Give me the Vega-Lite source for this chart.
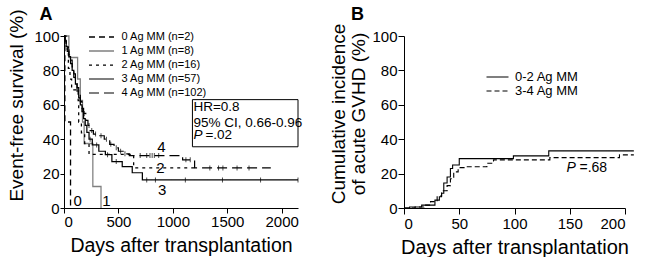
{
  "$schema": "https://vega.github.io/schema/vega-lite/v6.json",
  "background": "white",
  "padding": {"left": 7, "top": 6, "right": 0, "bottom": 0},
  "bounds": "flush",
  "spacing": 106,
  "config": {
    "font": "Liberation Sans",
    "view": {"stroke": null},
    "axis": {
      "grid": false, "domainColor": "black", "tickColor": "black", "labelColor": "black",
      "titleColor": "black", "labelFontSize": 15, "titleFontWeight": "normal",
      "tickSize": 4, "labelPadding": 1, "domainWidth": 1, "tickWidth": 1
    },
    "legend": {"labelColor": "black", "title": null}
  },
  "datasets": {
    "kmA": [
      {"group": "0 Ag MM (n=2)", "day": 0, "pct": 100},
      {"group": "0 Ag MM (n=2)", "day": 8, "pct": 50},
      {"group": "0 Ag MM (n=2)", "day": 60, "pct": 0},
      {"group": "1 Ag MM (n=8)", "day": 0, "pct": 100},
      {"group": "1 Ag MM (n=8)", "day": 45, "pct": 87.5},
      {"group": "1 Ag MM (n=8)", "day": 125, "pct": 75},
      {"group": "1 Ag MM (n=8)", "day": 150, "pct": 62.5},
      {"group": "1 Ag MM (n=8)", "day": 170, "pct": 50},
      {"group": "1 Ag MM (n=8)", "day": 185, "pct": 37.5},
      {"group": "1 Ag MM (n=8)", "day": 265, "pct": 12.5},
      {"group": "1 Ag MM (n=8)", "day": 340, "pct": 0},
      {"group": "2 Ag MM (n=16)", "day": 0, "pct": 100},
      {"group": "2 Ag MM (n=16)", "day": 20, "pct": 93.75},
      {"group": "2 Ag MM (n=16)", "day": 40, "pct": 81.25},
      {"group": "2 Ag MM (n=16)", "day": 55, "pct": 75},
      {"group": "2 Ag MM (n=16)", "day": 70, "pct": 68.75},
      {"group": "2 Ag MM (n=16)", "day": 130, "pct": 62.5},
      {"group": "2 Ag MM (n=16)", "day": 135, "pct": 50},
      {"group": "2 Ag MM (n=16)", "day": 160, "pct": 43.75},
      {"group": "2 Ag MM (n=16)", "day": 190, "pct": 37.5},
      {"group": "2 Ag MM (n=16)", "day": 230, "pct": 31.25},
      {"group": "2 Ag MM (n=16)", "day": 640, "pct": 23.4},
      {"group": "2 Ag MM (n=16)", "day": 1200, "pct": 23.4},
      {"group": "3 Ag MM (n=57)", "day": 0, "pct": 100},
      {"group": "3 Ag MM (n=57)", "day": 10, "pct": 97},
      {"group": "3 Ag MM (n=57)", "day": 20, "pct": 94},
      {"group": "3 Ag MM (n=57)", "day": 30, "pct": 91},
      {"group": "3 Ag MM (n=57)", "day": 45, "pct": 88},
      {"group": "3 Ag MM (n=57)", "day": 60, "pct": 84},
      {"group": "3 Ag MM (n=57)", "day": 75, "pct": 80},
      {"group": "3 Ag MM (n=57)", "day": 90, "pct": 76},
      {"group": "3 Ag MM (n=57)", "day": 105, "pct": 72},
      {"group": "3 Ag MM (n=57)", "day": 120, "pct": 68},
      {"group": "3 Ag MM (n=57)", "day": 135, "pct": 64},
      {"group": "3 Ag MM (n=57)", "day": 150, "pct": 60},
      {"group": "3 Ag MM (n=57)", "day": 165, "pct": 56},
      {"group": "3 Ag MM (n=57)", "day": 180, "pct": 52},
      {"group": "3 Ag MM (n=57)", "day": 195, "pct": 48},
      {"group": "3 Ag MM (n=57)", "day": 210, "pct": 44},
      {"group": "3 Ag MM (n=57)", "day": 230, "pct": 40},
      {"group": "3 Ag MM (n=57)", "day": 260, "pct": 36.7},
      {"group": "3 Ag MM (n=57)", "day": 320, "pct": 33},
      {"group": "3 Ag MM (n=57)", "day": 380, "pct": 31},
      {"group": "3 Ag MM (n=57)", "day": 440, "pct": 27},
      {"group": "3 Ag MM (n=57)", "day": 535, "pct": 24},
      {"group": "3 Ag MM (n=57)", "day": 627, "pct": 20.5},
      {"group": "3 Ag MM (n=57)", "day": 720, "pct": 16.3},
      {"group": "3 Ag MM (n=57)", "day": 2150, "pct": 16.3},
      {"group": "4 Ag MM (n=102)", "day": 0, "pct": 100},
      {"group": "4 Ag MM (n=102)", "day": 10, "pct": 97.5},
      {"group": "4 Ag MM (n=102)", "day": 20, "pct": 95},
      {"group": "4 Ag MM (n=102)", "day": 30, "pct": 92},
      {"group": "4 Ag MM (n=102)", "day": 45, "pct": 89},
      {"group": "4 Ag MM (n=102)", "day": 60, "pct": 86},
      {"group": "4 Ag MM (n=102)", "day": 75, "pct": 82},
      {"group": "4 Ag MM (n=102)", "day": 90, "pct": 78},
      {"group": "4 Ag MM (n=102)", "day": 105, "pct": 74},
      {"group": "4 Ag MM (n=102)", "day": 120, "pct": 70},
      {"group": "4 Ag MM (n=102)", "day": 135, "pct": 66},
      {"group": "4 Ag MM (n=102)", "day": 150, "pct": 62},
      {"group": "4 Ag MM (n=102)", "day": 165, "pct": 58},
      {"group": "4 Ag MM (n=102)", "day": 180, "pct": 55},
      {"group": "4 Ag MM (n=102)", "day": 200, "pct": 51},
      {"group": "4 Ag MM (n=102)", "day": 220, "pct": 48},
      {"group": "4 Ag MM (n=102)", "day": 240, "pct": 45},
      {"group": "4 Ag MM (n=102)", "day": 270, "pct": 43},
      {"group": "4 Ag MM (n=102)", "day": 320, "pct": 42},
      {"group": "4 Ag MM (n=102)", "day": 370, "pct": 40},
      {"group": "4 Ag MM (n=102)", "day": 420, "pct": 37},
      {"group": "4 Ag MM (n=102)", "day": 460, "pct": 35},
      {"group": "4 Ag MM (n=102)", "day": 500, "pct": 33},
      {"group": "4 Ag MM (n=102)", "day": 550, "pct": 31.5},
      {"group": "4 Ag MM (n=102)", "day": 600, "pct": 30.5},
      {"group": "4 Ag MM (n=102)", "day": 1090, "pct": 28},
      {"group": "4 Ag MM (n=102)", "day": 1200, "pct": 23.3},
      {"group": "4 Ag MM (n=102)", "day": 1900, "pct": 23.3}
    ],
    "censA": [
      {"group": "4", "day": 150, "pct": 62}, {"group": "4", "day": 170, "pct": 58},
      {"group": "4", "day": 185, "pct": 55}, {"group": "4", "day": 230, "pct": 48},
      {"group": "4", "day": 255, "pct": 45}, {"group": "4", "day": 290, "pct": 43},
      {"group": "4", "day": 340, "pct": 42}, {"group": "4", "day": 390, "pct": 40},
      {"group": "4", "day": 430, "pct": 37}, {"group": "4", "day": 480, "pct": 35},
      {"group": "4", "day": 520, "pct": 33}, {"group": "4", "day": 560, "pct": 31.5},
      {"group": "4", "day": 700, "pct": 30.5}, {"group": "4", "day": 760, "pct": 30.5},
      {"group": "4", "day": 790, "pct": 30.5}, {"group": "4", "day": 810, "pct": 30.5},
      {"group": "4", "day": 830, "pct": 30.5}, {"group": "4", "day": 870, "pct": 30.5},
      {"group": "4", "day": 1120, "pct": 28}, {"group": "4", "day": 1160, "pct": 28},
      {"group": "4", "day": 1340, "pct": 23.3}, {"group": "4", "day": 1420, "pct": 23.3},
      {"group": "4", "day": 1460, "pct": 23.3}, {"group": "4", "day": 1590, "pct": 23.3},
      {"group": "4", "day": 1700, "pct": 23.3},
      {"group": "3", "day": 240, "pct": 40}, {"group": "3", "day": 300, "pct": 36.7},
      {"group": "3", "day": 400, "pct": 31}, {"group": "3", "day": 480, "pct": 27},
      {"group": "3", "day": 760, "pct": 16.3}, {"group": "3", "day": 840, "pct": 16.3},
      {"group": "3", "day": 1115, "pct": 16.3}, {"group": "3", "day": 1456, "pct": 16.3},
      {"group": "3", "day": 1806, "pct": 16.3}, {"group": "3", "day": 2150, "pct": 16.3}
    ],
    "boxA": [{"day": 1180, "day2": 2150, "pct": 35.6, "pct2": 63}],
    "statA": [
      {"label": "HR=0.8", "day": 1189, "pct": 58.9},
      {"label": "95% CI, 0.66-0.96", "day": 1189, "pct": 49.7},
      {"label": "=.02", "day": 1299, "pct": 42.4}
    ],
    "statAp": [{"label": "P", "day": 1189, "pct": 42.4}],
    "curveLabA": [
      {"label": "4", "day": 894, "pct": 35.5},
      {"label": "2", "day": 885, "pct": 23.3},
      {"label": "3", "day": 903, "pct": 10.5},
      {"label": "0", "day": 126, "pct": 4},
      {"label": "1", "day": 390, "pct": 4}
    ],
    "panelA": [{"label": "A", "day": 0, "pct": 100}],
    "ciB": [
      {"grp": "0-2 Ag MM", "day": 0, "pct": 0},
      {"grp": "0-2 Ag MM", "day": 5, "pct": 0.6},
      {"grp": "0-2 Ag MM", "day": 16, "pct": 1.7},
      {"grp": "0-2 Ag MM", "day": 28, "pct": 4.6},
      {"grp": "0-2 Ag MM", "day": 32, "pct": 6.5},
      {"grp": "0-2 Ag MM", "day": 34, "pct": 8.6},
      {"grp": "0-2 Ag MM", "day": 36, "pct": 14.5},
      {"grp": "0-2 Ag MM", "day": 39, "pct": 18},
      {"grp": "0-2 Ag MM", "day": 42, "pct": 23},
      {"grp": "0-2 Ag MM", "day": 44, "pct": 25},
      {"grp": "0-2 Ag MM", "day": 50, "pct": 28.7},
      {"grp": "0-2 Ag MM", "day": 99, "pct": 30.3},
      {"grp": "0-2 Ag MM", "day": 131, "pct": 33.2},
      {"grp": "0-2 Ag MM", "day": 208, "pct": 33.2},
      {"grp": "3-4 Ag MM", "day": 0, "pct": 0},
      {"grp": "3-4 Ag MM", "day": 10, "pct": 0.6},
      {"grp": "3-4 Ag MM", "day": 18, "pct": 1.7},
      {"grp": "3-4 Ag MM", "day": 24, "pct": 3.7},
      {"grp": "3-4 Ag MM", "day": 30, "pct": 7},
      {"grp": "3-4 Ag MM", "day": 34, "pct": 10},
      {"grp": "3-4 Ag MM", "day": 39, "pct": 13},
      {"grp": "3-4 Ag MM", "day": 42, "pct": 17},
      {"grp": "3-4 Ag MM", "day": 45, "pct": 21},
      {"grp": "3-4 Ag MM", "day": 49, "pct": 23.5},
      {"grp": "3-4 Ag MM", "day": 55, "pct": 24},
      {"grp": "3-4 Ag MM", "day": 75, "pct": 26},
      {"grp": "3-4 Ag MM", "day": 81, "pct": 28},
      {"grp": "3-4 Ag MM", "day": 132, "pct": 29.3},
      {"grp": "3-4 Ag MM", "day": 195, "pct": 30.9},
      {"grp": "3-4 Ag MM", "day": 208, "pct": 30.9}
    ],
    "statB": [{"label": "=.68", "day": 158.8, "pct": 23.3}],
    "statBp": [{"label": "P", "day": 147, "pct": 23.3}],
    "panelB": [{"label": "B", "day": 0, "pct": 100}]
  },
  "resolve": {
    "scale": {"color": "independent", "strokeDash": "independent", "strokeWidth": "independent"},
    "legend": {"color": "independent", "strokeDash": "independent", "strokeWidth": "independent"}
  },
  "hconcat": [
    {
      "width": 234,
      "height": 172,
      "encoding": {
        "x": {"field": "day", "type": "quantitative", "scale": {"domain": [0, 2150], "nice": false, "zero": true},
          "axis": {"values": [0, 500, 1000, 1500, 2000], "format": "d", "tickSize": 5, "title": "Days after transplantation", "titleFontSize": 19.5, "titlePadding": 7}},
        "y": {"field": "pct", "type": "quantitative", "scale": {"domain": [0, 100], "nice": false},
          "axis": {"values": [0, 20, 40, 60, 80, 100], "title": "Event-free survival (%)", "titleFontSize": 19, "titlePadding": 7, "titleY": 69}}
      },
      "layer": [
        {
          "data": {"name": "kmA"},
          "mark": {"type": "line", "interpolate": "step-after", "clip": false},
          "encoding": {
            "color": {"field": "group", "type": "nominal",
              "scale": {"range": ["black", "#808080", "black", "black", "black"]},
              "legend": {"orient": "none", "legendX": 31.5, "legendY": -5, "symbolType": "M-2.5,0H2.5", "symbolSize": 100, "labelFontSize": 11, "rowPadding": 3, "labelOffset": 14}},
            "strokeDash": {"field": "group", "type": "nominal",
              "scale": {"range": [[6, 4], [1, 0], [3, 4], [1, 0], [10, 5]]},
              "legend": {"orient": "none", "legendX": 31.5, "legendY": -5, "symbolType": "M-2.5,0H2.5", "symbolSize": 100, "labelFontSize": 11, "rowPadding": 3, "labelOffset": 14}},
            "strokeWidth": {"field": "group", "type": "nominal",
              "scale": {"range": [1.3, 1.2, 1, 2.6, 2.6]},
              "legend": {"orient": "none", "legendX": 31.5, "legendY": -5, "symbolType": "M-2.5,0H2.5", "symbolSize": 100, "labelFontSize": 11, "rowPadding": 3, "labelOffset": 14}}
          }
        },
        {
          "data": {"name": "censA"},
          "mark": {"type": "tick", "orient": "vertical", "size": 5, "thickness": 1, "color": "black", "clip": false}
        },
        {
          "data": {"name": "boxA"},
          "mark": {"type": "rect", "fill": "white", "stroke": "black", "strokeWidth": 1, "clip": false},
          "encoding": {"x2": {"field": "day2"}, "y2": {"field": "pct2"}}
        },
        {
          "data": {"name": "statA"},
          "mark": {"type": "text", "align": "left", "baseline": "middle", "fontSize": 13.5, "color": "black"},
          "encoding": {"text": {"field": "label"}}
        },
        {
          "data": {"name": "statAp"},
          "mark": {"type": "text", "align": "left", "baseline": "middle", "fontSize": 13.5, "fontStyle": "italic", "color": "black"},
          "encoding": {"text": {"field": "label"}}
        },
        {
          "data": {"name": "curveLabA"},
          "mark": {"type": "text", "fontSize": 15, "baseline": "middle", "color": "black"},
          "encoding": {"text": {"field": "label"}}
        },
        {
          "data": {"name": "panelA"},
          "mark": {"type": "text", "fontSize": 18, "fontWeight": "bold", "baseline": "alphabetic", "color": "black", "dx": -18, "dy": -16},
          "encoding": {"text": {"field": "label"}}
        }
      ]
    },
    {
      "width": 221,
      "height": 172,
      "encoding": {
        "x": {"field": "day", "type": "quantitative", "scale": {"domain": [0, 200], "nice": false},
          "axis": {"values": [0, 50, 100, 150, 200], "tickSize": 6, "labelPadding": 2, "title": "Days after transplantation", "titleFontSize": 20, "titlePadding": 6}},
        "y": {"field": "pct", "type": "quantitative", "scale": {"domain": [0, 100], "nice": false},
          "axis": {"values": [0, 20, 40, 60, 80, 100], "tickSize": 6, "labelPadding": 1, "title": ["Cumulative incidence", "of acute GVHD (%)"], "titleFontSize": 19, "titleLineHeight": 20, "titlePadding": 3.5, "titleY": 77.5}}
      },
      "layer": [
        {
          "data": {"name": "ciB"},
          "mark": {"type": "line", "interpolate": "step-after", "clip": false, "color": "black", "strokeWidth": 1.1},
          "encoding": {
            "strokeDash": {"field": "grp", "type": "nominal",
              "scale": {"range": [[1, 0], [5, 3]]},
              "legend": {"orient": "none", "legendX": 87, "legendY": 34.5, "symbolType": "M-2.2,0H2.2", "symbolSize": 100, "symbolStrokeColor": "black", "symbolStrokeWidth": 1.1, "labelFontSize": 13, "rowPadding": -3, "labelOffset": 11}}
          }
        },
        {
          "data": {"name": "statB"},
          "mark": {"type": "text", "align": "left", "baseline": "middle", "fontSize": 14, "color": "black"},
          "encoding": {"text": {"field": "label"}}
        },
        {
          "data": {"name": "statBp"},
          "mark": {"type": "text", "align": "left", "baseline": "middle", "fontSize": 14, "fontStyle": "italic", "color": "black"},
          "encoding": {"text": {"field": "label"}}
        },
        {
          "data": {"name": "panelB"},
          "mark": {"type": "text", "fontSize": 18, "fontWeight": "bold", "baseline": "alphabetic", "color": "black", "dx": -46.5, "dy": -16},
          "encoding": {"text": {"field": "label"}}
        }
      ]
    }
  ]
}
